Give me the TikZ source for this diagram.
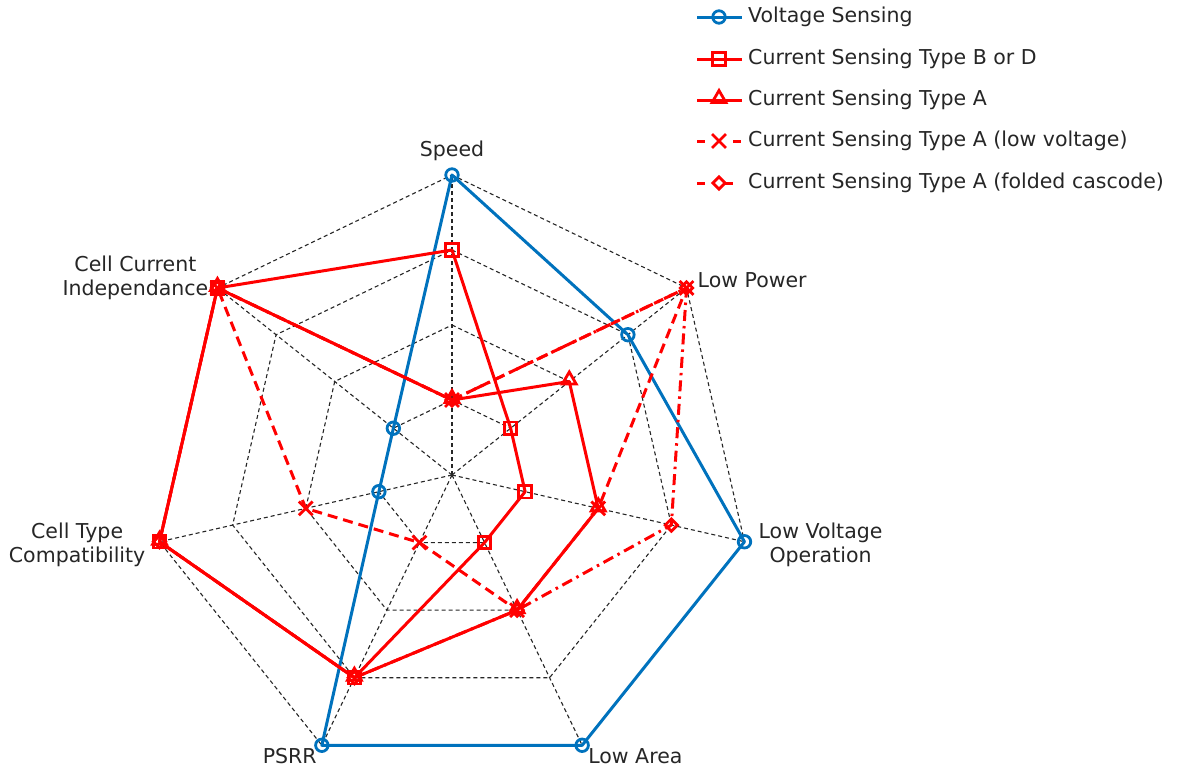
\documentclass[tikz,border=0pt]{standalone}
\usepackage{fontspec}
\setmainfont{DejaVu Sans}
\usetikzlibrary{shapes.geometric,shapes.misc}
\definecolor{vblue}{RGB}{0,114,189}
\definecolor{txt}{RGB}{38,38,38}
\tikzset{
  grid/.style={black!85, line width=1.1pt, dash pattern=on 4pt off 3pt},
  series/.style={line width=3pt, line join=round},
  vsline/.style={series, vblue},
  solidred/.style={series, red},
  lvline/.style={series, red, dash pattern=on 10pt off 6pt},
  fcline/.style={series, red, dash pattern=on 11pt off 5pt on 2.5pt off 5pt},
  mk/.style={inner sep=0pt, line width=2.8pt},
  circmk/.style={mk, circle, draw=vblue, minimum size=12.5pt},
  sqmk/.style={mk, rectangle, draw=red, minimum size=12.5pt},
  trimk/.style={mk, regular polygon, regular polygon sides=3, draw=red, minimum size=16pt},
  xmk/.style={mk, cross out, draw=red, minimum size=11pt},
  dmmk/.style={mk, diamond, draw=red, minimum size=13.5pt},
  axislabel/.style={text=txt, font=\fontsize{20.5}{24.5}\selectfont, inner sep=0pt, align=center},
  legtext/.style={text=txt, font=\fontsize{20.5}{24.5}\selectfont, inner sep=0pt, anchor=west}
}
\begin{document}
\begin{tikzpicture}[x=1pt,y=1pt]
\useasboundingbox (0,0) rectangle (1179,-769);
\coordinate (O) at (452,-475);
\begin{scope}[shift={(O)}]
  % web: four heptagon rings and seven spokes
  \foreach \l in {1,...,4}
    \draw[grid] (90:\l*75) \foreach \k in {1,...,6} { -- ({90-\k*360/7}:\l*75) } -- cycle;
  \foreach \k in {0,...,6}
    \draw[grid] (0,0) -- ({90-\k*360/7}:300);
  \foreach \k in {0,...,6}
    \coordinate (ax\k) at ({90-\k*360/7}:300);

  % data points of each series (score 0..4, one ring per unit)
  \foreach \v [count=\k from 0] in {4,3,4,4,4,1,1}
    \coordinate (vs\k) at ({90-\k*360/7}:\v*75);
  \foreach \v [count=\k from 0] in {3,1,1,1,3,4,4}
    \coordinate (bd\k) at ({90-\k*360/7}:\v*75);
  \foreach \v [count=\k from 0] in {1,2,2,2,3,4,4}
    \coordinate (ta\k) at ({90-\k*360/7}:\v*75);
  \foreach \v [count=\k from 0] in {1,4,2,2,1,2,4}
    \coordinate (lv\k) at ({90-\k*360/7}:\v*75);
  \foreach \v [count=\k from 0] in {1,4,3,2,3,4,4}
    \coordinate (fc\k) at ({90-\k*360/7}:\v*75);
\end{scope}

% Voltage sensing
\draw[vsline] (vs0) -- (vs1) -- (vs2) -- (vs3) -- (vs4) -- (vs5) -- (vs6) -- cycle;
\foreach \k in {0,...,6} \node[circmk] (vsm\k) at (vs\k) {};
% Current sensing type B or D
\draw[solidred] (bd0) -- (bd1) -- (bd2) -- (bd3) -- (bd4) -- (bd5) -- (bd6) -- cycle;
\foreach \k in {0,...,6} \node[sqmk] (bdm\k) at (bd\k) {};
% Current sensing type A
\draw[solidred] (ta0) -- (ta1) -- (ta2) -- (ta3) -- (ta4) -- (ta5) -- (ta6) -- cycle;
\foreach \k in {0,...,6} \node[trimk, yshift=1.5pt] (tam\k) at (ta\k) {};
% Current sensing type A, low voltage
\draw[lvline] (lv0) -- (lv1) -- (lv2) -- (lv3) -- (lv4) -- (lv5) -- (lv6) -- cycle;
\foreach \k in {0,...,6} \node[xmk] (lvm\k) at (lv\k) {};
% Current sensing type A, folded cascode
\draw[fcline] (fc0) -- (fc1) -- (fc2) -- (fc3) -- (fc4) -- (fc5) -- (fc6) -- cycle;
\foreach \k in {0,...,6} \node[dmmk] (fcm\k) at (fc\k) {};

% axis labels
\node[axislabel, anchor=south] (lab0) at ([yshift=14pt]ax0) {Speed};
\node[axislabel, anchor=west] (lab1) at ([xshift=11pt,yshift=8pt]ax1) {Low Power};
\node[axislabel, anchor=west] (lab2) at ([xshift=14pt,yshift=-3pt]ax2) {Low Voltage\\Operation};
\node[axislabel, anchor=west] (lab3) at ([xshift=6pt,yshift=-11pt]ax3) {Low Area};
\node[axislabel, anchor=east] (lab4) at ([xshift=-5pt,yshift=-11pt]ax4) {PSRR};
\node[axislabel, anchor=east] (lab5) at ([xshift=-14pt,yshift=-3pt]ax5) {Cell Type\\Compatibility};
\node[axislabel, anchor=east] (lab6) at ([xshift=-9pt,yshift=10pt]ax6) {Cell Current\\Independance};

% legend
\foreach \y/\nm in {17/a,59/b,100/c,141/d,183/e} {
  \coordinate (lg\nm1) at (697,-\y);
  \coordinate (lg\nm2) at (742,-\y);
  \coordinate (lg\nm) at (719,-\y);
}
\draw[vsline] (lga1) -- (lga2); \node[circmk] (lgam) at (lga) {};
\draw[solidred] (lgb1) -- (lgb2); \node[sqmk] (lgbm) at (lgb) {};
\draw[solidred] (lgc1) -- (lgc2); \node[trimk, yshift=1.5pt] (lgcm) at (lgc) {};
\draw[series, red, dash pattern=on 8pt off 28pt on 8pt] (lgd1) -- (lgd2); \node[xmk] (lgdm) at (lgd) {};
\draw[series, red, dash pattern=on 8pt off 20pt on 8pt] (lge1) -- ([xshift=-8pt]lge2); \node[dmmk, fill=white] (lgem) at (lge) {};
\node[legtext] (lta) at (748,-17) {Voltage Sensing};
\node[legtext] (ltb) at (748,-59) {Current Sensing Type B or D};
\node[legtext] (ltc) at (748,-100) {Current Sensing Type A};
\node[legtext] (ltd) at (748,-141) {Current Sensing Type A (low voltage)};
\node[legtext] (lte) at (748,-183) {Current Sensing Type A (folded cascode)};
\end{tikzpicture}
\end{document}
